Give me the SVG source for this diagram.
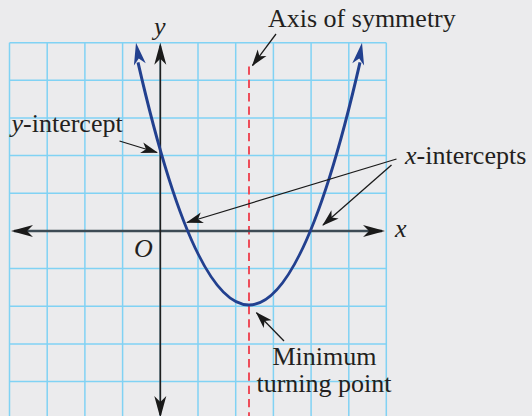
<svg xmlns="http://www.w3.org/2000/svg" xmlns:xlink="http://www.w3.org/1999/xlink" width="532" height="416" viewBox="0 0 532 416">
<style>
.grid line{stroke:#80d2f4;stroke-width:1.5}
.t{font-family:"Liberation Serif","Times New Roman",serif;font-size:26px;fill:#231f20}
.i{font-style:italic}
.ann{stroke:#1a1a1a;stroke-width:1.3;fill:none;marker-end:url(#smallHead)}
</style>
<defs>
<marker id="axHead" viewBox="-23 -7 24 14" refX="-3" refY="0" markerWidth="24" markerHeight="14" markerUnits="userSpaceOnUse" orient="auto-start-reverse">
<path d="M0,0 L-22,-6 L-16,0 L-22,6 Z" fill="#1a1a1a"/>
</marker>
<marker id="smallHead" viewBox="-18 -7 20 14" refX="-1" refY="0" markerWidth="20" markerHeight="14" markerUnits="userSpaceOnUse" orient="auto">
<path d="M0,0 L-17,-5.5 L-12.5,0 L-17,5.5 Z" fill="#1a1a1a"/>
</marker>
<path id="bigHead" d="M0,0 L-22,-6 L-16,0 L-22,6 Z"/>
</defs>
<rect width="532" height="416" fill="#ebebed"/>
<g id="grid" class="grid">
<line x1="9.5" y1="42.7" x2="9.5" y2="416"/>
<line x1="47.2" y1="42.7" x2="47.2" y2="416"/>
<line x1="84.9" y1="42.7" x2="84.9" y2="416"/>
<line x1="122.6" y1="42.7" x2="122.6" y2="416"/>
<line x1="160.3" y1="42.7" x2="160.3" y2="416"/>
<line x1="198" y1="42.7" x2="198" y2="416"/>
<line x1="235.7" y1="42.7" x2="235.7" y2="416"/>
<line x1="273.4" y1="42.7" x2="273.4" y2="416"/>
<line x1="311.1" y1="42.7" x2="311.1" y2="416"/>
<line x1="348.8" y1="42.7" x2="348.8" y2="416"/>
<line x1="386.3" y1="42.7" x2="386.3" y2="416"/>
<line x1="9.5" y1="42.7" x2="386.3" y2="42.7"/>
<line x1="9.5" y1="80.3" x2="386.3" y2="80.3"/>
<line x1="9.5" y1="118" x2="386.3" y2="118"/>
<line x1="9.5" y1="155.6" x2="386.3" y2="155.6"/>
<line x1="9.5" y1="193.3" x2="386.3" y2="193.3"/>
<line x1="9.5" y1="268.6" x2="386.3" y2="268.6"/>
<line x1="9.5" y1="306.2" x2="386.3" y2="306.2"/>
<line x1="9.5" y1="343.9" x2="386.3" y2="343.9"/>
<line x1="9.5" y1="381.5" x2="386.3" y2="381.5"/>
</g>
<g id="axis-of-symmetry-line">
<line x1="249" y1="66.5" x2="249" y2="416" stroke="#ee4d5a" stroke-width="2" stroke-dasharray="8.3 5"/>
</g>
<g id="axes">
<line x1="14" y1="231" x2="382" y2="231" stroke="#3d4b55" stroke-width="2.6" marker-start="url(#axHead)" marker-end="url(#axHead)"/>
<line x1="160.3" y1="45.7" x2="160.3" y2="415" stroke="#1f1f1f" stroke-width="1.7" marker-start="url(#axHead)" marker-end="url(#axHead)"/>
</g>
<g id="parabola">
<path d="M138 62.3 Q249 547.7 360 62.3" fill="none" stroke="#22408f" stroke-width="3"/>
<use xlink:href="#bigHead" fill="#22408f" transform="translate(136,42.7) rotate(-100)"/>
<use xlink:href="#bigHead" fill="#22408f" transform="translate(362,42.7) rotate(-80)"/>
</g>
<g id="connectors">
<path class="ann" d="M119.5 141 L157 152.5"/>
<path class="ann" d="M276 34 L252.5 65.5"/>
<path class="ann" d="M396.5 159 L187 222.5"/>
<path class="ann" d="M391.5 165 L323 225"/>
<path class="ann" d="M284 341 L256.5 312.7"/>
</g>
<g id="label-axis-of-symmetry"><text class="t" x="268" y="27">Axis of symmetry</text></g>
<g id="label-y-intercept"><text class="t" x="11.5" y="131.7"><tspan class="i">y</tspan>-intercept</text></g>
<g id="label-x-intercepts"><text class="t" x="405" y="164"><tspan class="i">x</tspan>-intercepts</text></g>
<g id="label-minimum"><text class="t" x="324.5" y="365" text-anchor="middle">Minimum</text><text class="t" x="324" y="391.5" text-anchor="middle">turning point</text></g>
<g id="label-y"><text class="t i" x="154" y="34.5">y</text></g>
<g id="label-x"><text class="t i" x="395" y="237.3">x</text></g>
<g id="label-O"><text class="t i" x="134" y="257">O</text></g>
</svg>
